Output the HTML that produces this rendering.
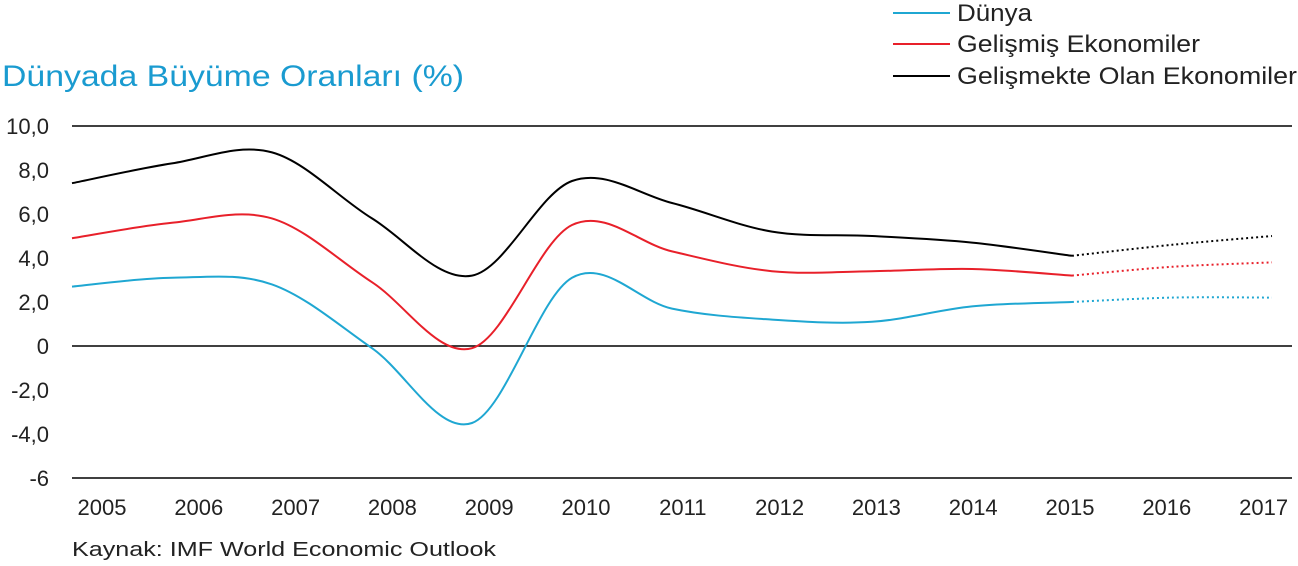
<!DOCTYPE html>
<html><head><meta charset="utf-8"><style>
body{margin:0;background:#fff;width:1298px;height:561px;overflow:hidden;font-family:"Liberation Sans",sans-serif;}
svg text{font-family:"Liberation Sans",sans-serif;}
</style></head><body>
<svg id="chart" width="1298" height="561" viewBox="0 0 1298 561" xmlns="http://www.w3.org/2000/svg">
<text x="2" y="86" font-size="30" fill="#1a9bd0" textLength="462" lengthAdjust="spacingAndGlyphs">Dünyada Büyüme Oranları (%)</text>
<g>
<line x1="893" y1="13" x2="950" y2="13" stroke="#1fa7d2" stroke-width="2"/>
<text x="957" y="21" font-size="24" fill="#222" textLength="75" lengthAdjust="spacingAndGlyphs">Dünya</text>
<line x1="893" y1="44" x2="950" y2="44" stroke="#e8202a" stroke-width="2"/>
<text x="957" y="52" font-size="24" fill="#222" textLength="243" lengthAdjust="spacingAndGlyphs">Gelişmiş Ekonomiler</text>
<line x1="893" y1="76" x2="950" y2="76" stroke="#000" stroke-width="2"/>
<text x="957" y="84" font-size="24" fill="#222" textLength="340" lengthAdjust="spacingAndGlyphs">Gelişmekte Olan Ekonomiler</text>
</g>
<g id="axes"></g>
<g id="series"></g>
<text x="72" y="556" font-size="20" fill="#222" textLength="424" lengthAdjust="spacingAndGlyphs">Kaynak: IMF World Economic Outlook</text>
</svg>
<script>
const years=["2005","2006","2007","2008","2009","2010","2011","2012","2013","2014","2015","2016","2017"];
const dunya=[2.7,3.1,2.8,-0.1,-3.5,3.1,1.7,1.2,1.1,1.8,2.0,2.2,2.2];
const gelismis=[4.9,5.6,5.8,2.9,-0.1,5.5,4.3,3.4,3.4,3.5,3.2,3.6,3.8];
const gelismekte=[7.4,8.3,8.8,5.8,3.2,7.5,6.5,5.2,5.0,4.7,4.1,4.6,5.0];
const yTicks=[10,8,6,4,2,0,-2,-4,-6];
const yTickLabels=["10,0","8,0","6,0","4,0","2,0","0","-2,0","-4,0","-6"];
const gridValues=[10,0,-6];
const forecastStart=10;
const NS="http://www.w3.org/2000/svg";
function y(v){return 346-(v*22);}
function x(i){return 72+i*100;}
function labelX(i){return 102+i*96.8;}
const axes=document.getElementById('axes'),series=document.getElementById('series');
yTicks.forEach((t,k)=>{const e=document.createElementNS(NS,'text');


e.setAttribute('x',49);e.setAttribute('y',y(t)+8);e.setAttribute('text-anchor','end');e.setAttribute('font-size','22');e.setAttribute('fill','#222');e.textContent=yTickLabels[k];axes.appendChild(e);});
gridValues.forEach(g=>{const l=document.createElementNS(NS,'line');


l.setAttribute('x1',72);l.setAttribute('x2',1292);l.setAttribute('y1',y(g));l.setAttribute('y2',y(g));l.setAttribute('stroke','#000');l.setAttribute('stroke-width','1.5');axes.appendChild(l);});
years.forEach((yr,i)=>{const e=document.createElementNS(NS,'text');


e.setAttribute('x',labelX(i));e.setAttribute('y',515);e.setAttribute('text-anchor','middle');e.setAttribute('font-size','22');e.setAttribute('fill','#222');e.textContent=yr;axes.appendChild(e);});
function smooth(pts){let d=`M${pts[0][0]},${pts[0][1]}`;
for(let i=0;i<pts.length-1;i++){const p0=pts[i-1]||pts[i],p1=pts[i],p2=pts[i+1],p3=pts[i+2]||p2;
const c1=[p1[0]+(p2[0]-p0[0])/6,p1[1]+(p2[1]-p0[1])/6],c2=[p2[0]-(p3[0]-p1[0])/6,p2[1]-(p3[1]-p1[1])/6];
d+=` C${c1[0]},${c1[1]} ${c2[0]},${c2[1]} ${p2[0]},${p2[1]}`;}return d;}
function draw(vals,color,name){const pts=vals.map((v,i)=>[x(i),y(v)]);
const solid=document.createElementNS(NS,'path');


solid.setAttribute('d',smooth(pts.slice(0,forecastStart+1)));solid.setAttribute('fill','none');solid.setAttribute('stroke',color);solid.setAttribute('stroke-width','2');series.appendChild(solid);
const dot=document.createElementNS(NS,'path');


dot.setAttribute('d',smooth(pts.slice(forecastStart)));dot.setAttribute('fill','none');dot.setAttribute('stroke',color);dot.setAttribute('stroke-width','2');dot.setAttribute('stroke-dasharray','2 3');series.appendChild(dot);}
draw(dunya,'#1fa7d2','dunya');
draw(gelismis,'#e8202a','gelismis');
draw(gelismekte,'#000','gelismekte');
</script>
</body></html>
